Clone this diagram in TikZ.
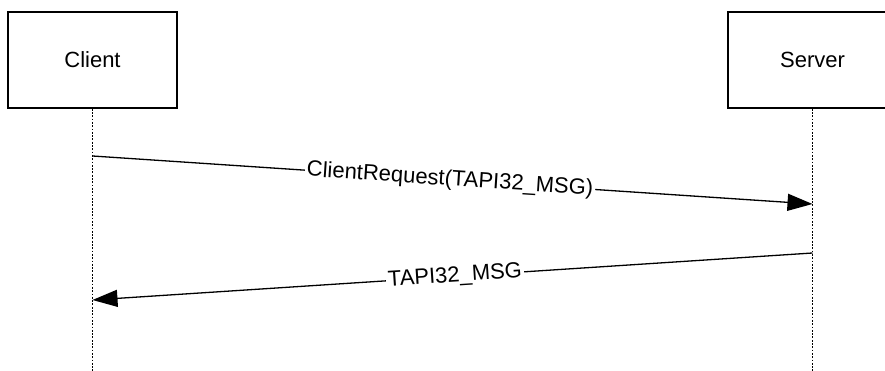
\documentclass[tikz,border=0pt]{standalone}
\usepackage{fontspec}
\setmainfont{Liberation Sans}
\usetikzlibrary{arrows.meta}
\begin{document}
\begin{tikzpicture}[x=1pt,y=-1pt,
  actor/.style={draw, line width=1.5pt, minimum width=169pt, minimum height=96pt, inner sep=0pt, font=\fontsize{22}{26}\selectfont},
  lifeline/.style={line width=1.8pt, dash pattern=on 1.8pt off 1.5pt},
  msg/.style={line width=1.3pt, -{Triangle[length=25pt,width=17pt]}},
  lbl/.style={fill=white, inner sep=2pt, sloped, font=\fontsize{22}{26}\selectfont}]
\useasboundingbox (0,0) rectangle (885,371);
\begin{scope}
\clip (0,0) rectangle (885,371);
\node[actor] (client) at (92.5,60) {Client};
\node[actor] (server) at (812.5,60) {Server};
\end{scope}
\coordinate (cend) at (92.5,371);
\coordinate (send) at (812.5,371);
\draw[lifeline] (client.south) -- (cend);
\draw[lifeline] (server.south) -- (send);
\coordinate (m1s) at (92.5,156);
\coordinate (m1e) at (812.5,204);
\coordinate (m2s) at (812.5,253);
\coordinate (m2e) at (92.5,300);
\draw[msg] (m1s) -- node[lbl, pos=0.4965] (l1) {ClientRequest(TAPI32\_MSG)} (m1e);
\draw[msg] (m2s) -- node[lbl, pos=0.4965] (l2) {TAPI32\_MSG} (m2e);
\end{tikzpicture}
\end{document}
